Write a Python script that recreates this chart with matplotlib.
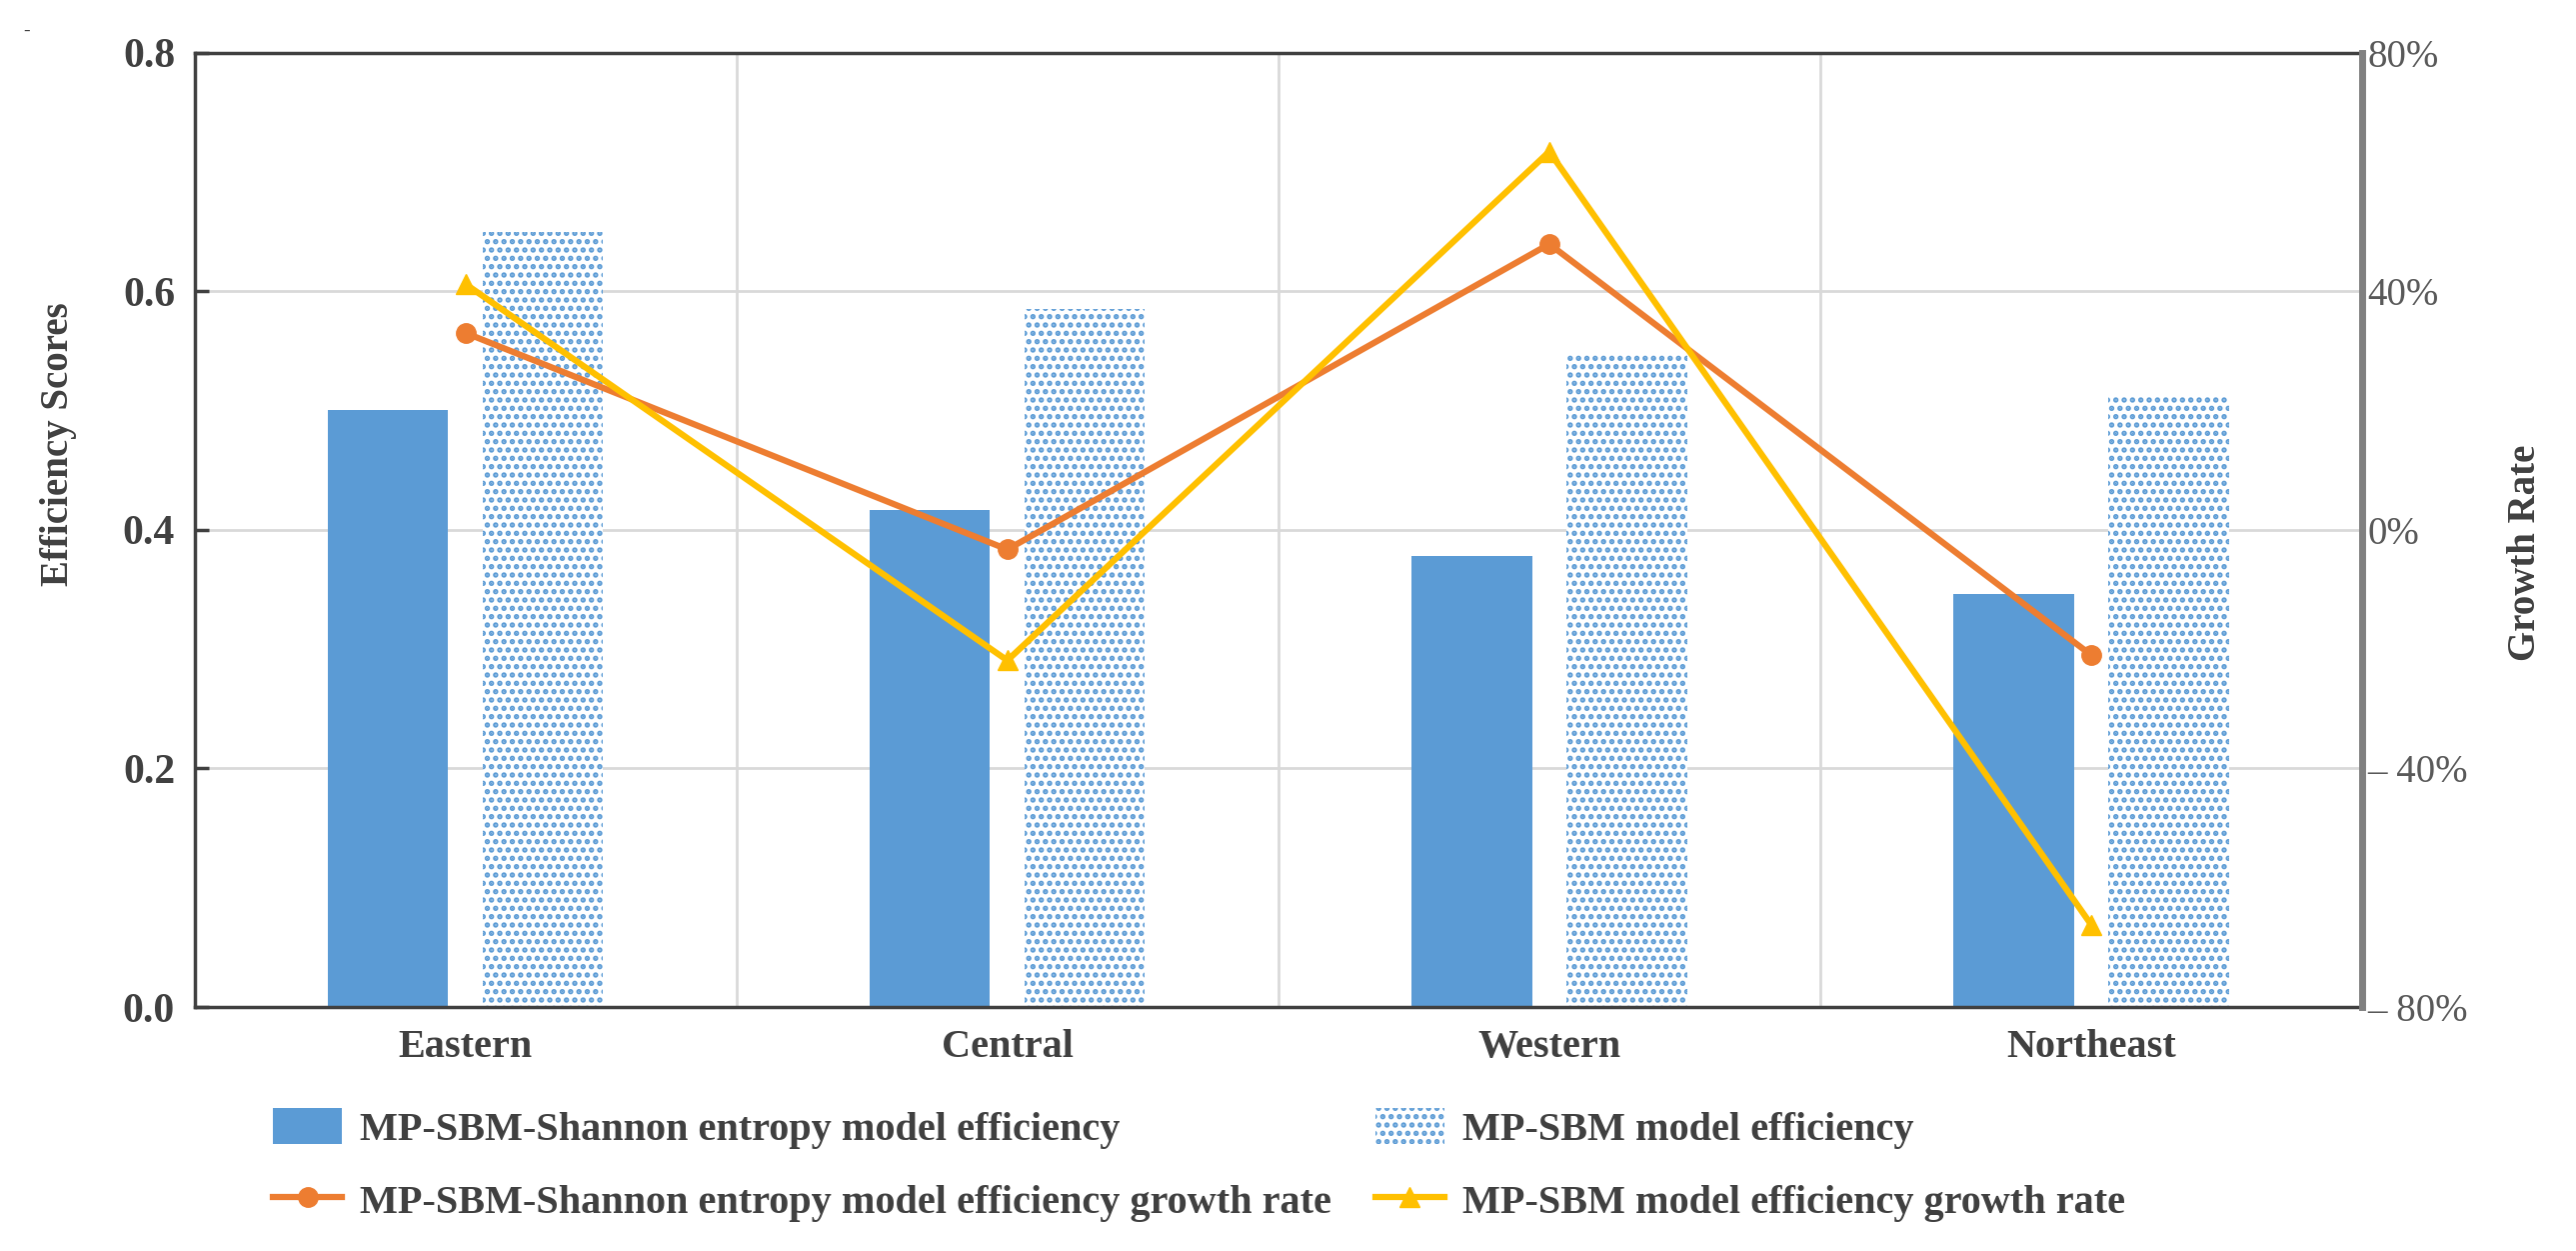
import matplotlib
matplotlib.use("Agg")
import matplotlib.pyplot as plt
import numpy as np

plt.rcParams['font.family'] = ['Liberation Serif', 'DejaVu Serif']
plt.rcParams['hatch.linewidth'] = 2.6

# data
regions = ["Eastern", "Central", "Western", "Northeast"]
eff_shannon = [0.50, 0.417, 0.378, 0.346]
eff_sbm = [0.65, 0.585, 0.548, 0.511]
growth_shannon = [33.0, -3.3, 47.9, -21.0]
growth_sbm = [41.2, -21.9, 63.4, -66.2]
eff_ticks = [0.0, 0.2, 0.4, 0.6, 0.8]
growth_ticks = [-80, -40, 0, 40, 80]
growth_ticklabels = ["\u2013 80%", "\u2013 40%", "0%", "40%", "80%"]

blue = "#5B9BD5"
orange = "#ED7D31"
yellow = "#FFC000"
dark = "#404040"

fig = plt.figure(figsize=(25.77, 12.51), dpi=100)
ax = fig.add_axes([0.0755, 0.195, 0.8415, 0.763])
x = np.arange(len(regions))
w = 0.222
off = 0.143

b1 = ax.bar(x - off, eff_shannon, w, color=blue, zorder=2,
            label="MP-SBM-Shannon entropy model efficiency")
b2 = ax.bar(x + off, eff_sbm, w, facecolor="white", edgecolor=blue, hatch="..",
            linewidth=0, zorder=2, label="MP-SBM model efficiency")

ax.set_xlim(-0.5, len(regions) - 0.5)
ax.set_ylim(0, 0.8)
ax.set_yticks(eff_ticks)
ax.set_yticklabels([f"{v:.1f}" for v in eff_ticks], fontsize=30, fontweight="bold", color=dark)
ax.set_xticks(x)
ax.set_xticklabels(regions, fontsize=29, fontweight="bold", color=dark)
ax.tick_params(axis="x", length=0, pad=16)
ax.tick_params(axis="y", direction="in", length=10, width=2.5, color=dark, pad=14)
ax.set_xticks(np.arange(len(regions) - 1) + 0.5, minor=True)
ax.grid(axis="y", color="#D9D9D9", linewidth=2, zorder=0)
ax.grid(axis="x", which="minor", color="#D9D9D9", linewidth=2, zorder=0)
ax.tick_params(axis="x", which="minor", length=0)
ax.set_ylabel("Efficiency Scores", fontsize=28, fontweight="bold", color=dark)
ax.yaxis.set_label_coords(-0.054, 0.59)
for s in ["left", "bottom", "top"]:
    ax.spines[s].set_color(dark)
    ax.spines[s].set_linewidth(2.5)

ax2 = ax.twinx()
l1, = ax2.plot(x, growth_shannon, color=orange, linewidth=4.5, marker="o", markersize=14,
               label="MP-SBM-Shannon entropy model efficiency growth rate", zorder=3)
l2, = ax2.plot(x, growth_sbm, color=yellow, linewidth=4.5, marker="^", markersize=15,
               label="MP-SBM model efficiency growth rate", zorder=3)
ax2.set_ylim(-80, 80)
ax2.set_yticks(growth_ticks)
ax2.set_yticklabels(growth_ticklabels, fontsize=28, color="#595959")
ax2.tick_params(axis="y", length=0, pad=4)
ax2.set_ylabel("Growth Rate", fontsize=28, fontweight="bold", color=dark)
ax2.yaxis.set_label_coords(1.067, 0.476)
ax2.spines["right"].set_color("#808080")
ax2.spines["right"].set_linewidth(5)
for s in ["left", "bottom", "top"]:
    ax2.spines[s].set_visible(False)

fig.legend([b1, l1, b2, l2],
           [b1.get_label(), l1.get_label(), b2.get_label(), l2.get_label()],
           ncol=2, loc="upper left", bbox_to_anchor=(0.092, 0.143), frameon=False,
           prop={"size": 29, "weight": "bold"}, labelcolor=dark,
           handlelength=1.7, handleheight=1.0, handletextpad=0.45,
           columnspacing=1.1, labelspacing=0.8)

fig.text(0.009, 0.971, "-", fontsize=14, color=dark)

fig.savefig("out.png", dpi=100)
